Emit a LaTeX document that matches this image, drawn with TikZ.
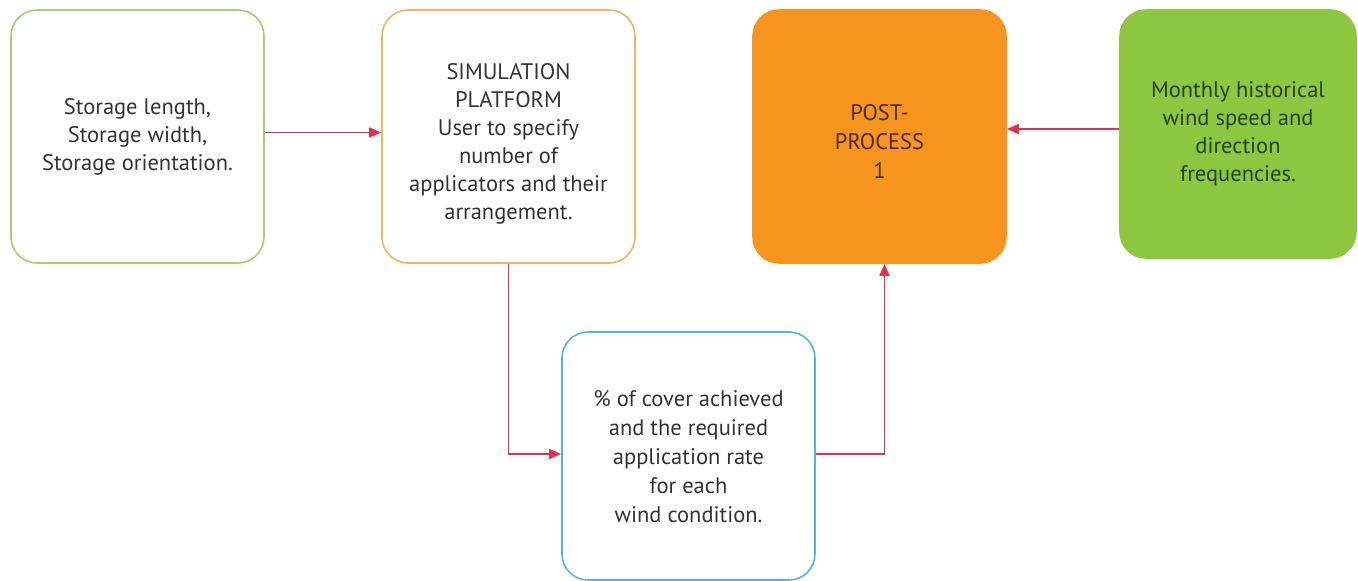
\documentclass[tikz,border=0pt]{standalone}
\usepackage{fontspec}
\setmainfont{PT Sans}
\usetikzlibrary{arrows.meta,calc}
\definecolor{gline}{HTML}{A5D06A}
\definecolor{oline}{HTML}{F6B060}
\definecolor{ofill}{HTML}{F7941D}
\definecolor{gfill}{HTML}{8DC63F}
\definecolor{bline}{HTML}{4DB6E2}
\definecolor{arr}{HTML}{E2304E}
\definecolor{txt}{HTML}{333333}
\definecolor{otxt}{HTML}{4A2A0C}
\definecolor{gtxt}{HTML}{24420E}
\newcommand{\shifted}[2]{\raisebox{#1}[\height][\depth]{\begin{tabular}{@{}c@{}}#2\end{tabular}}}
\tikzset{
  x=1pt,y=1pt,
  box/.style={rounded corners=26pt,line width=1.6pt,align=center,
    minimum width=253pt,minimum height=253pt,inner sep=0pt,
    font=\fontsize{22.5}{28}\selectfont,text=txt},
  wide/.style={font=\fontsize{22.5}{29}\selectfont},
  conn/.style={draw=arr,line width=1.6pt,-{Triangle[length=12pt,width=10pt]}}
}
\begin{document}
\begin{tikzpicture}
\useasboundingbox (0,0) rectangle (1358,-581);
\node[box,draw=gline] (b1) at (137.5,-136.5) {Storage length,\\Storage width,\\Storage orientation.};
\node[box,draw=oline] (b2) at (508.5,-136.5) {\shifted{-7pt}{SIMULATION\\PLATFORM\\User to specify\\number of\\applicators and their\\arrangement.}};
\node[box,wide,fill=ofill,draw=ofill,text=otxt] (b3) at (879.5,-136.5) {\shifted{-7pt}{POST-\\PROCESS\\1}};
\node[box,fill=gfill,draw=gfill,minimum width=236pt,minimum height=248pt,text=gtxt] (b4) at (1238,-134) {Monthly historical\\wind speed and\\direction\\frequencies.};
\node[box,wide,draw=bline,minimum height=248pt] (b5) at (688.5,-456) {\shifted{-3pt}{\% of cover achieved\\and the required\\application rate\\for each\\wind condition.}};
\draw[conn] ([yshift=4pt]b1.east) -- ([yshift=4pt]b2.west);
\draw[conn] (b2.south) |- ([yshift=2pt]b5.west);
\draw[conn] ([yshift=2pt]b5.east) -| ([xshift=5pt]b3.south);
\draw[conn] ([yshift=5pt]b4.west) -- ([yshift=7.5pt]b3.east);
\end{tikzpicture}
\end{document}
